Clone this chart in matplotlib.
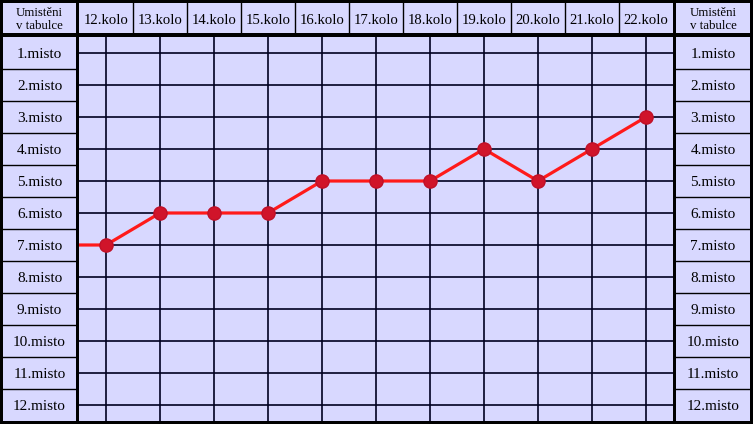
import matplotlib
matplotlib.use('Agg')
import matplotlib.pyplot as plt

# data
rounds = [11, 12, 13, 14, 15, 16, 17, 18, 19, 20, 21, 22]
places = [7, 7, 6, 6, 6, 5, 5, 5, 4, 5, 4, 3]
round_labels = ['%d.kolo' % r for r in range(12, 23)]
place_labels = ['%d.misto' % p for p in range(1, 13)]
corner_text = 'Umistěni\nv tabulce'

bg = '#D8D8FF'
W, H = 753, 424
plt.rcParams['font.family'] = ['Liberation Serif', 'DejaVu Serif']

fig = plt.figure(figsize=(W / 100, H / 100), dpi=100, facecolor='black')


def box(x0, y0, x1, y1):
    # pixel box -> axes
    ax = fig.add_axes([x0 / W, 1 - y1 / H, (x1 - x0) / W, (y1 - y0) / H])
    ax.set_facecolor(bg)
    ax.set_xticks([])
    ax.set_yticks([])
    for s in ax.spines.values():
        s.set_visible(False)
    return ax


# main plot area
ax = box(79, 37, 673, 421)
ax.set_xlim(11.5, 22.5)
ax.set_ylim(12.5, 0.5)
for r in range(12, 23):
    ax.axvline(r, color='#000020', lw=1.2, zorder=1)
for p in range(1, 13):
    ax.axhline(p, color='#000020', lw=1.2, zorder=1)
ax.plot(rounds, places, color='#FF1A1A', lw=2.3, zorder=2)
ax.plot(rounds[1:], places[1:], 'o', ms=9.5, color='#D0142A',
        markeredgecolor='#C01028', zorder=3)

# header row
hd = box(79, 3, 673, 33)
hd.set_xlim(11.5, 22.5)
hd.set_ylim(0, 1)
for i, lab in enumerate(round_labels):
    x = 12 + i
    hd.text(x, 0.4, lab, ha='center', va='center', fontsize=10.6)
    if i > 0:
        hd.axvline(x - 0.5, color='black', lw=1)

# side columns
for x0, x1 in [(3, 76), (676, 750)]:
    c = box(x0, 3, x1, 33)
    c.text(0.5, 0.45, corner_text, ha='center', va='center', fontsize=9.3,
           linespacing=1.1, transform=c.transAxes)
    col = box(x0, 37, x1, 421)
    col.set_xlim(0, 1)
    col.set_ylim(12.5, 0.5)
    for i, lab in enumerate(place_labels):
        col.text(0.5, i + 1.05, lab, ha='center', va='center', fontsize=11)
        if i > 0:
            col.axhline(i + 0.5, color='black', lw=1)

fig.savefig('out.png', dpi=100, facecolor='black')
